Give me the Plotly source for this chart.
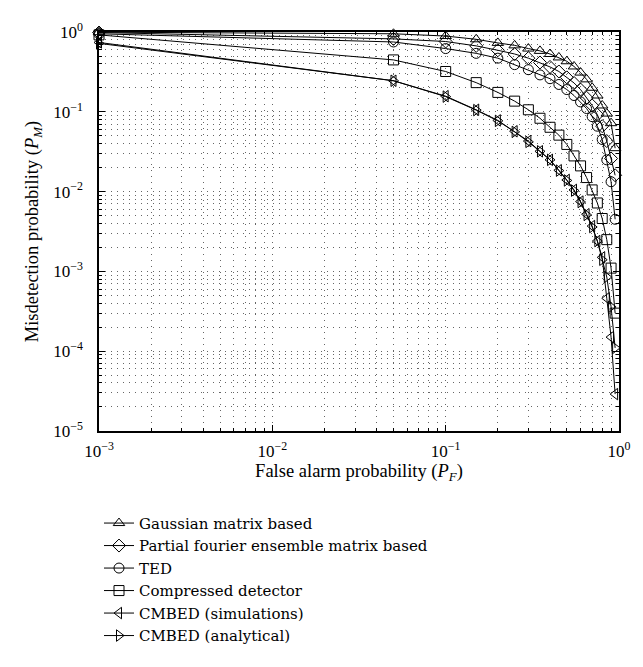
import plotly.graph_objects as go

pf = [0.001, 0.05, 0.10, 0.15, 0.20, 0.25, 0.30, 0.35, 0.40, 0.45, 0.50,
      0.55, 0.60, 0.65, 0.70, 0.75, 0.80, 0.85, 0.90, 0.95]

pm_gaussian = [0.995, 0.95, 0.89, 0.81, 0.73, 0.68, 0.62, 0.58, 0.53, 0.48, 0.43,
               0.37, 0.31, 0.255, 0.20, 0.16, 0.12, 0.095, 0.072, 0.035]
pm_fourier = [0.985, 0.82, 0.76, 0.67, 0.59, 0.53, 0.47, 0.415, 0.365, 0.32, 0.27,
              0.23, 0.19, 0.15, 0.12, 0.092, 0.066, 0.043, 0.026, 0.016]
pm_ted = [0.95, 0.75, 0.62, 0.54, 0.47, 0.39, 0.337, 0.29, 0.26, 0.22, 0.19,
          0.16, 0.133, 0.11, 0.087, 0.066, 0.045, 0.025, 0.0133, 0.0045]
pm_compressed = [0.92, 0.447, 0.32, 0.232, 0.175, 0.136, 0.106, 0.083, 0.064, 0.051, 0.039,
                 0.028, 0.021, 0.015, 0.0105, 0.0072, 0.0046, 0.0025, 0.0011, 0.0003]
pm_cmbed_sim = [0.74, 0.245, 0.157, 0.106, 0.078, 0.057, 0.043, 0.032, 0.025, 0.0185, 0.014,
                0.0105, 0.0075, 0.0052, 0.0037, 0.0024, 0.0015, 0.00046, 0.00015, 0.000029]
pm_cmbed_ana = [0.72, 0.245, 0.155, 0.105, 0.077, 0.056, 0.042, 0.032, 0.025, 0.0183, 0.0138,
                0.0103, 0.0074, 0.0051, 0.0036, 0.0024, 0.0014, 0.00085, 0.00036, 0.00011]

names = ["Gaussian matrix based", "Partial fourier ensemble matrix based", "TED",
         "Compressed detector", "CMBED (simulations)", "CMBED (analytical)"]
series = [pm_gaussian, pm_fourier, pm_ted, pm_compressed, pm_cmbed_sim, pm_cmbed_ana]
symbols = ["triangle-up-open", "diamond-open", "circle-open", "square-open",
           "triangle-left-open", "triangle-right-open"]

x_major = [1e-3, 1e-2, 1e-1, 1]
x_labels = ["10<sup>−3</sup>", "10<sup>−2</sup>", "10<sup>−1</sup>", "10<sup>0</sup>"]
y_major = [1e-5, 1e-4, 1e-3, 1e-2, 1e-1, 1]
y_labels = ["10<sup>−5</sup>", "10<sup>−4</sup>", "10<sup>−3</sup>", "10<sup>−2</sup>",
            "10<sup>−1</sup>", "10<sup>0</sup>"]

def minors(lo, hi):
    out = []
    e = lo
    while e < hi:
        for m in range(2, 10):
            out.append(m * 10 ** e)
        e += 1
    return out

FONT = "Liberation Serif"
LEGFONT = "DejaVu Serif"
GRID = "rgba(0,0,0,0.6)"
DASH = "1px,5px"

fig = go.Figure()
for name, ys, sym in zip(names, series, symbols):
    fig.add_trace(go.Scatter(
        x=pf, y=ys, name=name, mode="lines+markers",
        line=dict(color="black", width=1),
        marker=dict(symbol=sym, size=10, color="black", line=dict(width=1, color="black")),
        cliponaxis=False,
    ))

axis_common = dict(
    type="log", showline=True, linecolor="black", linewidth=1.5, mirror="ticks",
    ticks="inside", ticklen=6, tickwidth=1, tickcolor="black",
    showgrid=True, gridcolor=GRID, gridwidth=1, griddash=DASH,
    zeroline=False, tickmode="array",
    tickfont=dict(family=FONT, size=17, color="black"),
)

fig.update_xaxes(
    **axis_common, range=[-3, 0], tickvals=x_major, ticktext=x_labels,
    ticklabelstandoff=4,
    title=dict(text="False alarm probability (<i>P<sub>F</sub></i>)",
               font=dict(family=FONT, size=18.5, color="black"), standoff=3),
    minor=dict(tickmode="array", tickvals=minors(-3, 0), ticks="inside", ticklen=3,
               tickcolor="black", showgrid=True, gridcolor=GRID,
               griddash=DASH, gridwidth=1),
)
fig.update_yaxes(
    **axis_common, range=[-5, 0], tickvals=y_major, ticktext=y_labels,
    ticklabelstandoff=11,
    title=dict(text="Misdetection probability (<i>P<sub>M</sub></i>)",
               font=dict(family=FONT, size=18.5, color="black"), standoff=10),
    minor=dict(tickmode="array", tickvals=minors(-5, 0), ticks="inside", ticklen=3,
               tickcolor="black", showgrid=True, gridcolor=GRID,
               griddash=DASH, gridwidth=1),
)

fig.update_layout(
    width=643, height=667,
    margin=dict(l=91, r=32, t=13, b=244),
    plot_bgcolor="white", paper_bgcolor="white",
    font=dict(family=FONT, size=17, color="black"),
    showlegend=True,
    legend=dict(x=0.0, y=-0.19, xanchor="left", yanchor="top",
                font=dict(family=LEGFONT, size=15, color="black"),
                tracegroupgap=0, itemwidth=30, bgcolor="rgba(0,0,0,0)"),
)

fig.write_html("out.html")
